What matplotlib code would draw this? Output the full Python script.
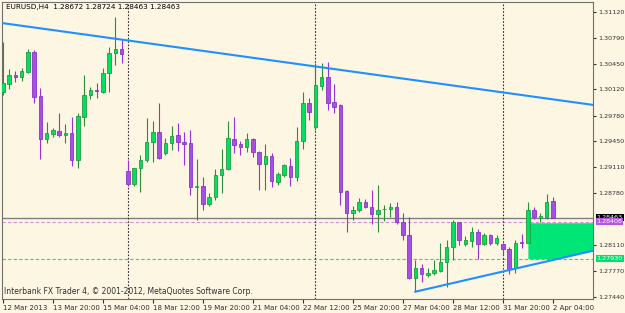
import numpy as np
import matplotlib.pyplot as plt
from matplotlib.patches import Rectangle
import matplotlib.transforms as mtransforms

# EURUSD H4 candles, 12 Mar 12:00 .. 2 Apr 04:00
opens = [1.30086, 1.30189, 1.30305, 1.30276, 1.30348, 1.30599, 1.30034, 1.29474, 1.29539, 1.29582,
         1.29530, 1.29552, 1.29207, 1.29769, 1.30047, 1.30112, 1.30090, 1.30327, 1.30586, 1.30642,
         1.29068, 1.28893, 1.29107, 1.29207, 1.29443, 1.29565, 1.29293, 1.29423, 1.29530, 1.29443,
         1.29423, 1.28864, 1.28871, 1.28638, 1.28732, 1.29009, 1.29090, 1.29478, 1.29410, 1.29379,
         1.29478, 1.29314, 1.29151, 1.29262, 1.28926, 1.29013, 1.29133, 1.28991, 1.29456, 1.29940,
         1.29637, 1.30167, 1.30284, 1.29960, 1.29918, 1.28806, 1.28518, 1.28560, 1.28660, 1.28595,
         1.28509, 1.28567, 1.28569, 1.28595, 1.28409, 1.28237, 1.27677, 1.27811, 1.27720, 1.27742,
         1.27778, 1.27892, 1.28086, 1.28401, 1.28121, 1.28163, 1.28272, 1.28121, 1.28237, 1.28130,
         1.28117, 1.28052, 1.27807, 1.28143, 1.28138, 1.28560, 1.28453, 1.28466, 1.28672]
highs = [1.30732, 1.30383, 1.30351, 1.30396, 1.30638, 1.30629, 1.30134, 1.29702, 1.29617, 1.29810,
         1.29672, 1.29766, 1.29818, 1.30305, 1.30150, 1.30202, 1.30392, 1.30674, 1.31051, 1.30758,
         1.29207, 1.29103, 1.29271, 1.29746, 1.29715, 1.29940, 1.29487, 1.29646, 1.29689, 1.29573,
         1.29595, 1.29216, 1.28983, 1.28784, 1.29090, 1.29345, 1.29711, 1.29766, 1.29452, 1.29552,
         1.29495, 1.29323, 1.29414, 1.29293, 1.29055, 1.29151, 1.29229, 1.29637, 1.30082, 1.30004,
         1.30465, 1.30465, 1.30470, 1.30185, 1.29931, 1.28819, 1.28612, 1.28712, 1.28699, 1.28819,
         1.28884, 1.28625, 1.28647, 1.28660, 1.28518, 1.28470, 1.27914, 1.27858, 1.27804, 1.27910,
         1.28130, 1.28173, 1.28431, 1.28409, 1.28224, 1.28344, 1.28315, 1.28259, 1.28250, 1.28237,
         1.28138, 1.28086, 1.28173, 1.28250, 1.28668, 1.28595, 1.28518, 1.28767, 1.28724]
lows = [1.30047, 1.30124, 1.30215, 1.30228, 1.30331, 1.29940, 1.29216, 1.29423, 1.29504, 1.29504,
        1.29423, 1.29133, 1.29099, 1.29646, 1.29995, 1.30008, 1.30069, 1.30086, 1.30435, 1.30457,
        1.28871, 1.28871, 1.28797, 1.29185, 1.29185, 1.29220, 1.29271, 1.29336, 1.29327, 1.29142,
        1.28754, 1.28431, 1.28560, 1.28612, 1.28690, 1.28784, 1.29077, 1.29293, 1.29271, 1.29314,
        1.29249, 1.28819, 1.28819, 1.28862, 1.28884, 1.28991, 1.28871, 1.28935, 1.29345, 1.29724,
        1.29595, 1.30112, 1.29853, 1.29810, 1.28625, 1.28280, 1.28431, 1.28538, 1.28582, 1.28379,
        1.28272, 1.28422, 1.28474, 1.28376, 1.28173, 1.27668, 1.27504, 1.27630, 1.27698, 1.27720,
        1.27763, 1.27561, 1.27914, 1.28108, 1.28095, 1.28086, 1.27923, 1.28108, 1.28108, 1.28108,
        1.27979, 1.27729, 1.27742, 1.28069, 1.28130, 1.28444, 1.28409, 1.28444, 1.28463]
closes = [1.30202, 1.30305, 1.30286, 1.30357, 1.30603, 1.30025, 1.29474, 1.29552, 1.29591, 1.29530,
          1.29560, 1.29207, 1.29775, 1.30047, 1.30108, 1.30099, 1.30327, 1.30586, 1.30638, 1.30573,
          1.28896, 1.29099, 1.29207, 1.29443, 1.29573, 1.29229, 1.29423, 1.29521, 1.29443, 1.29410,
          1.28862, 1.28871, 1.28638, 1.28732, 1.29009, 1.29087, 1.29487, 1.29401, 1.29379, 1.29474,
          1.29306, 1.29151, 1.29262, 1.28939, 1.29022, 1.29142, 1.28991, 1.29456, 1.29940, 1.29823,
          1.30176, 1.30284, 1.29947, 1.29888, 1.28797, 1.28518, 1.28560, 1.28668, 1.28595, 1.28509,
          1.28560, 1.28573, 1.28595, 1.28409, 1.28237, 1.27677, 1.27807, 1.27727, 1.27750, 1.27785,
          1.27892, 1.28086, 1.28409, 1.28173, 1.28173, 1.28272, 1.28117, 1.28237, 1.28138, 1.28194,
          1.28052, 1.27794, 1.28138, 1.28130, 1.28554, 1.28466, 1.28487, 1.28668, 1.28463]

time_ticks = [0, 8, 16, 24, 32, 40, 48, 56, 64, 72, 80, 88]
time_labels = ['12 Mar 2013', '13 Mar 20:00', '15 Mar 04:00', '18 Mar 12:00', '19 Mar 20:00',
               '21 Mar 04:00', '22 Mar 12:00', '25 Mar 20:00', '27 Mar 04:00', '28 Mar 12:00',
               '31 Mar 20:00', '2 Apr 04:00']
price_ticks = [1.31120, 1.30790, 1.30450, 1.30120, 1.29780, 1.29450, 1.29110, 1.28780,
               1.28110, 1.27770, 1.27440]

bid = 1.28463
pink_level = 1.28408
green_level = 1.27930
box_top = 1.28396
week_starts = [20, 50, 80]
down_line = [(0, 1.30976), (88, 1.29991)]
up_line = [(66, 1.27504), (88, 1.27914)]

# colours
bg = '#fdf6e3'
bull_fill, bull_edge, bull_wick = '#00e060', '#1f9e3f', '#2e8b3a'
bear_fill, bear_edge, bear_wick = '#a64fe3', '#8a35c8', '#9a30d8'
trend_col = '#1e90ff'

fig = plt.figure(figsize=(6.25, 3.13), dpi=100, facecolor=bg)
ax = fig.add_axes([2/625, 1-298.5/313, 591/625, 297/313])
ax.set_facecolor(bg)
xmin, xmax = -0.14, 94.42
ax.set_xlim(xmin, xmax)
ax.set_ylim(1.27416, 1.31256)

# green zone under the uptrend
slope = (up_line[1][1]-up_line[0][1]) / (up_line[1][0]-up_line[0][0])
xf = np.linspace(84, xmax, 200)
trend = up_line[0][1] + slope*(xf-up_line[0][0])
ax.fill_between(xf, np.maximum(trend, green_level), box_top, color='#00e676', lw=0, zorder=1)

# price lines and week separators
ax.axhline(bid, color='#808080', lw=1, zorder=2)
ax.axhline(pink_level, color='#d68be0', lw=0.8, ls=(0, (3, 2)), zorder=2)
ax.axhline(green_level, color='#19e07a', lw=0.8, ls=(0, (3, 2)), zorder=2)
for w in week_starts:
    ax.axvline(w, color='#303030', lw=0.8, ls=(0, (1.5, 1.5)), zorder=2)

# candles
for i in range(len(opens)):
    o, h, l, c = opens[i], highs[i], lows[i], closes[i]
    if c >= o:
        fill, edge, wick = bull_fill, bull_edge, bull_wick
    else:
        fill, edge, wick = bear_fill, bear_edge, bear_wick
    ax.plot([i, i], [l, h], color=wick, lw=0.8, zorder=3, solid_capstyle='butt')
    ax.add_patch(Rectangle((i-0.28, min(o, c)), 0.56, max(abs(c-o), 1e-6),
                           facecolor=fill, edgecolor=edge, lw=0.6, zorder=4))

# trendlines
ax.axline(down_line[0], down_line[1], color=trend_col, lw=1.5, zorder=5)
xs = np.array([up_line[0][0], xmax])
ax.plot(xs, up_line[0][1] + slope*(xs-up_line[0][0]), color=trend_col, lw=1.5, zorder=5)

# axes
for s in ax.spines.values():
    s.set_color('#707070')
    s.set_linewidth(0.8)
ax.yaxis.tick_right()
ax.set_yticks(price_ticks)
ax.set_yticklabels(['%.5f' % p for p in price_ticks])
ax.tick_params(axis='y', labelsize=4.6, colors='#303030', length=2.5, pad=1)
ax.set_xticks(time_ticks)
ax.set_xticklabels(time_labels, ha='left')
ax.tick_params(axis='x', labelsize=5, colors='#303030', length=3, pad=2)

# price labels on the right
trans = mtransforms.blended_transform_factory(ax.transAxes, ax.transData)
for val, fc in [(bid, 'black'), (pink_level, '#b455e6'), (green_level, '#00e070')]:
    ax.text(1.006, val, '%.5f' % val, transform=trans, fontsize=4.6, color='white',
            va='center', ha='left', clip_on=False, zorder=10,
            bbox=dict(boxstyle='square,pad=0.15', fc=fc, ec='none'))

fig.text(6/625, 1-7.5/313, 'EURUSD,H4  1.28672 1.28724 1.28463 1.28463', fontsize=5.2, va='center')
fig.text(4/625, 1-292/313, 'Interbank FX Trader 4, \u00a9 2001-2012, MetaQuotes Software Corp.',
         fontsize=5.5, va='center', color='#303030')

fig.savefig('out.png', dpi=100, facecolor=bg)
